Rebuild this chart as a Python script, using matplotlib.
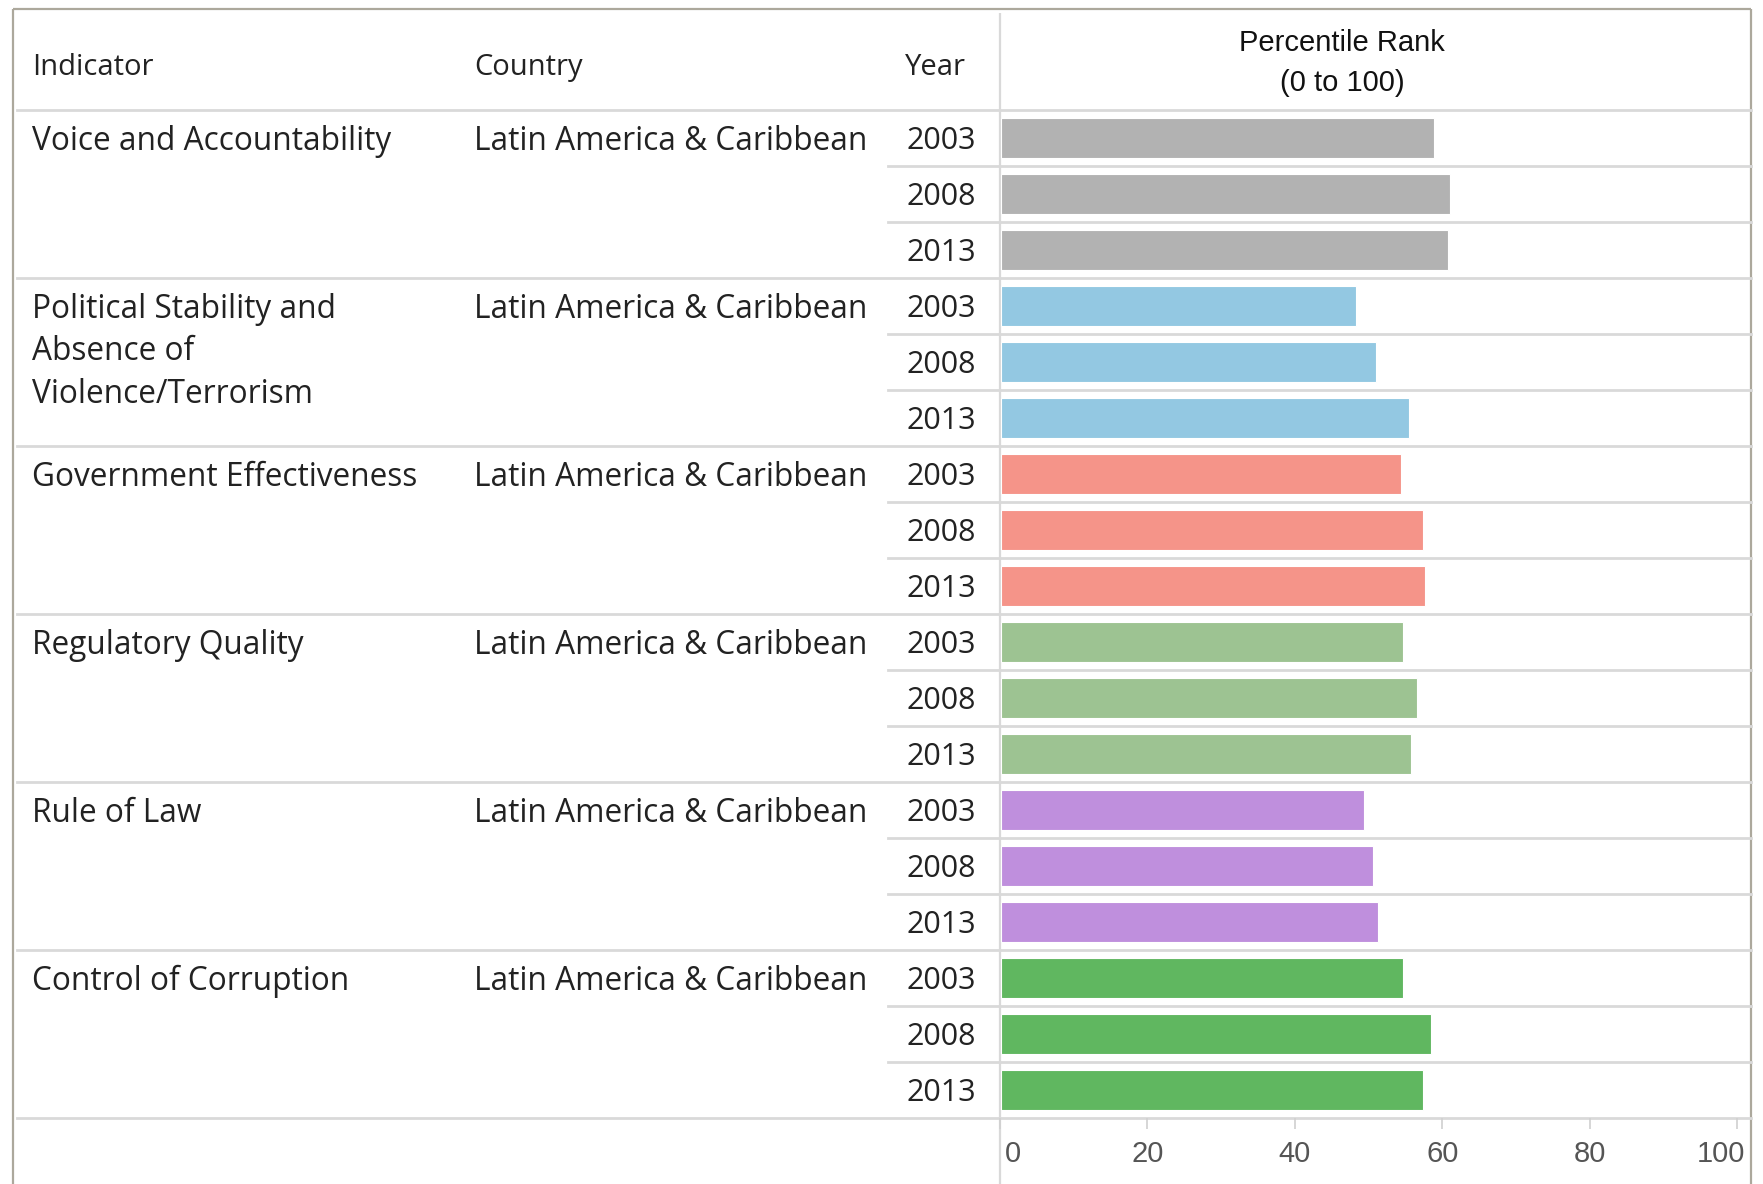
import matplotlib
matplotlib.use("Agg")
import matplotlib.pyplot as plt
import matplotlib.transforms as mtransforms

# ---------------- data ----------------
indicators = [
    "Voice and Accountability",
    "Political Stability and\nAbsence of\nViolence/Terrorism",
    "Government Effectiveness",
    "Regulatory Quality",
    "Rule of Law",
    "Control of Corruption",
]
country = "Latin America & Caribbean"
years = ["2003", "2008", "2013"]
voice = [58.7, 60.9, 60.6]
political = [48.2, 50.8, 55.3]
government = [54.2, 57.2, 57.5]
regulatory = [54.5, 56.4, 55.6]
rule_of_law = [49.3, 50.4, 51.2]
corruption = [54.5, 58.3, 57.2]
series = [voice, political, government, regulatory, rule_of_law, corruption]
colors = ["#b2b2b2", "#93c8e2", "#f59489", "#9dc392", "#bf8fdd", "#60b760"]
xticks = [0, 20, 40, 60, 80, 100]
header_cols = ["Indicator", "Country", "Year"]
measure_title = ["Percentile Rank", "(0 to 100)"]

# ---------------- layout (pixels) ----------------
W, H = 1763, 1184
DPI = 100
fig = plt.figure(figsize=(W / DPI, H / DPI), dpi=DPI)
fig.patch.set_facecolor("white")

TOP_BORDER = 9
LEFT_BORDER = 13
RIGHT_BORDER = 1751
HEAD_LINE = 110
ROW_H = 56.0
N_ROWS = 18
BOTTOM_LINE = HEAD_LINE + N_ROWS * ROW_H
BAR_X0 = 1000
AX_100 = 1737
SUB_X0 = 888

ov = fig.add_axes([0, 0, 1, 1])
ov.set_xlim(0, W)
ov.set_ylim(H, 0)
ov.axis("off")

border_c = "#aca89c"
sep_c = "#d9d9d9"
text_c = "#222222"

TXT_FONT = ["Open Sans", "DejaVu Sans"]
HEAD_FONT = ["Open Sans", "DejaVu Sans"]
ARIAL = ["Liberation Sans", "DejaVu Sans"]

# outer border
ov.plot([LEFT_BORDER, RIGHT_BORDER], [TOP_BORDER, TOP_BORDER], color=border_c, lw=1.6, solid_capstyle="butt")
ov.plot([LEFT_BORDER, LEFT_BORDER], [TOP_BORDER, H], color=border_c, lw=1.6, solid_capstyle="butt")
ov.plot([RIGHT_BORDER, RIGHT_BORDER], [TOP_BORDER, H], color=border_c, lw=1.6, solid_capstyle="butt")

# vertical divider between table and bars
ov.plot([BAR_X0, BAR_X0], [TOP_BORDER + 4, H], color=sep_c, lw=1.6, solid_capstyle="butt")

# horizontal lines
ov.plot([LEFT_BORDER + 4, RIGHT_BORDER], [HEAD_LINE, HEAD_LINE], color=sep_c, lw=2.0)
for r in range(1, N_ROWS + 1):
    y = HEAD_LINE + r * ROW_H
    if r % 3 == 0:
        ov.plot([LEFT_BORDER + 4, RIGHT_BORDER], [y, y], color=sep_c, lw=2.0)
    else:
        ov.plot([SUB_X0, RIGHT_BORDER], [y, y], color=sep_c, lw=2.0)

# header texts
head_x = [32.5, 474.5, 905]
for hx, lab in zip(head_x, header_cols):
    ov.text(hx, 67.5, lab, fontsize=21, family=HEAD_FONT, color=text_c, ha="left", va="center")
for k, line in enumerate(measure_title):
    ov.text(1342, 42.7 + k * 40.5, line, fontsize=21, family=ARIAL,
            color="#111111", ha="center", va="center")

# table body texts
LINE_SP = 42.7
FS = 22.8
FS_YEAR = 22
for g, name in enumerate(indicators):
    first_center = HEAD_LINE + g * 3 * ROW_H + ROW_H / 2 + 3
    for k, line in enumerate(name.split("\n")):
        ov.text(32.5, first_center + k * LINE_SP, line, fontsize=FS, family=TXT_FONT,
                color=text_c, ha="left", va="center")
    ov.text(474.5, first_center, country, fontsize=FS, family=TXT_FONT,
            color=text_c, ha="left", va="center")
    for j, yr in enumerate(years):
        ov.text(976, first_center + j * ROW_H, yr, fontsize=FS_YEAR, family=TXT_FONT,
                color=text_c, ha="right", va="center")

# ---------------- bar axes ----------------
ax = fig.add_axes([BAR_X0 / W, 1 - BOTTOM_LINE / H, (RIGHT_BORDER - BAR_X0) / W,
                   (BOTTOM_LINE - HEAD_LINE) / H])
ax.patch.set_alpha(0)
xmax = 100 * (RIGHT_BORDER - BAR_X0) / (AX_100 - BAR_X0)
ax.set_xlim(0, xmax)
ax.set_ylim(N_ROWS, 0)
for g, (vals, col) in enumerate(zip(series, colors)):
    pos = [g * 3 + j + 0.5 for j in range(len(vals))]
    ax.barh(pos, vals, height=0.71, color=col, edgecolor="white", linewidth=0.8, left=0.15)
for s in ax.spines.values():
    s.set_visible(False)
ax.set_yticks([])
ax.set_xticks(xticks)
ax.set_xticklabels([str(t) for t in xticks], fontsize=21, family=ARIAL, color="#555555")
ax.tick_params(axis="x", direction="out", length=8, width=1.2, color="#d0d0d0", pad=8)
labels = ax.get_xticklabels()
labels[0].set_ha("left")
labels[-1].set_ha("right")
offset_l = mtransforms.ScaledTranslation(5 / DPI, 0, fig.dpi_scale_trans)
offset_r = mtransforms.ScaledTranslation(8 / DPI, 0, fig.dpi_scale_trans)
labels[0].set_transform(labels[0].get_transform() + offset_l)
labels[-1].set_transform(labels[-1].get_transform() + offset_r)

fig.savefig("out.png", dpi=DPI, facecolor="white")
